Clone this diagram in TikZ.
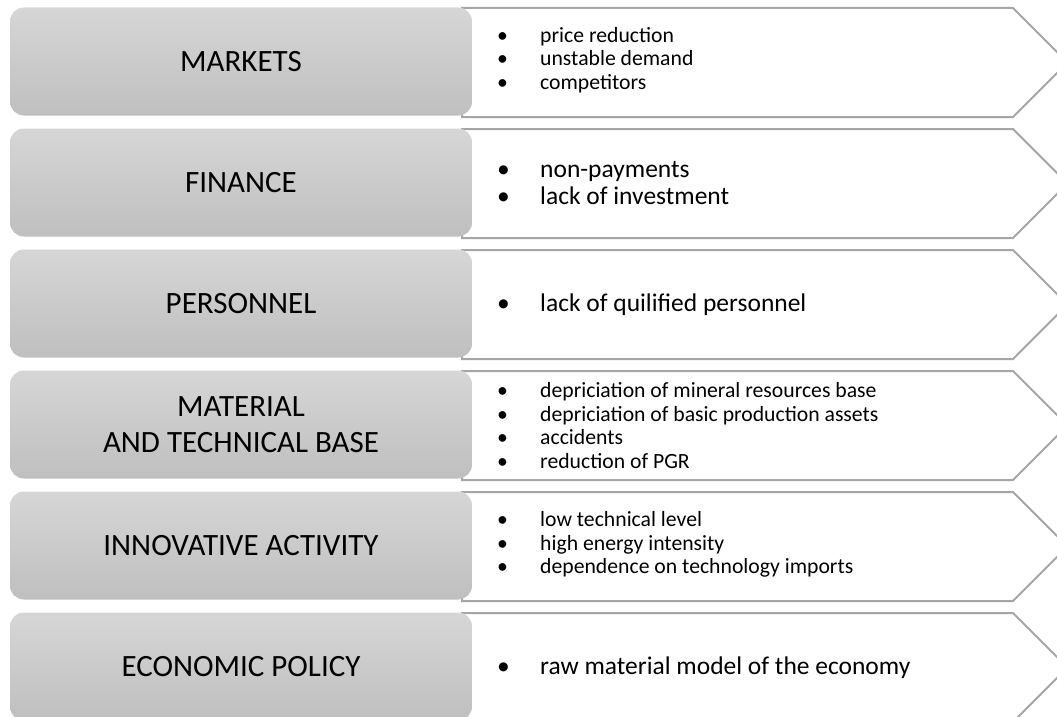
\documentclass[tikz,border=0pt]{standalone}
\usepackage{fontspec}
\setmainfont{Carlito}
\usetikzlibrary{positioning}

\definecolor{boxtop}{RGB}{214,214,214}
\definecolor{boxbot}{RGB}{191,191,191}
\definecolor{chevline}{RGB}{166,166,166}

\newcommand{\bitem}[1]{\makebox[43pt][l]{\textbullet}#1}

\begin{document}
\begin{tikzpicture}[x=1pt, y=-1pt,
    catbox/.style={rectangle, rounded corners=14pt, top color=boxtop, bottom color=boxbot, minimum width=462pt, minimum height=108pt, inner sep=0pt, align=center, font=\fontsize{31}{36}\selectfont},
    chev/.style={draw=chevline, line width=2pt, fill=white, line join=miter},
    biglist/.style={anchor=west, align=left, inner sep=0pt, font=\fontsize{25.5}{27}\selectfont},
    smalllist/.style={anchor=west, align=left, inner sep=0pt, font=\fontsize{21.7}{23.5}\selectfont}]
        \useasboundingbox (0,0) rectangle (1057,717);
        \clip (0,0) rectangle (1057,717);
        \fill[white] (0,0) rectangle (1057,717);

        % Chevrons
        \draw[chev] (462,8) -- (1013,8) -- (1067.5,62.5) -- (1013,117) -- (462,117) -- cycle;
        \draw[chev] (462,129) -- (1013,129) -- (1067.5,183.5) -- (1013,238) -- (462,238) -- cycle;
        \draw[chev] (462,250) -- (1013,250) -- (1067.5,304.5) -- (1013,359) -- (462,359) -- cycle;
        \draw[chev] (462,371) -- (1013,371) -- (1067.5,425.5) -- (1013,480) -- (462,480) -- cycle;
        \draw[chev] (462,492) -- (1013,492) -- (1067.5,546.5) -- (1013,601) -- (462,601) -- cycle;
        \draw[chev] (462,613) -- (1013,613) -- (1067.5,667.5) -- (1013,722) -- (462,722) -- cycle;

        % Categories
        \node[catbox] (markets) at (241,61.5) {MARKETS};
        \node[catbox] (finance) at (241,182.5) {FINANCE};
        \node[catbox] (personnel) at (241,303.5) {PERSONNEL};
        \node[catbox] (material) at (241,424.5) {MATERIAL\\AND TECHNICAL BASE};
        \node[catbox] (innovative) at (241,545.5) {INNOVATIVE ACTIVITY};
        \node[catbox] (policy) at (241,666.5) {ECONOMIC POLICY};

        % Factors
        \node[smalllist] (marketsf) at (497,60) {\bitem{price reduction}\\\bitem{unstable demand}\\\bitem{competitors}};
        \node[biglist] (financef) at (497,183.5) {\bitem{non-payments}\\\bitem{lack of investment}};
        \node[biglist] (personnelf) at (497,304.5) {\bitem{lack of quilified personnel}};
        \node[smalllist] (materialf) at (497,425.5) {\bitem{depriciation of mineral resources base}\\\bitem{depriciation of basic production assets}\\\bitem{accidents}\\\bitem{reduction of PGR}};
        \node[smalllist] (innovativef) at (497,544.5) {\bitem{low technical level}\\\bitem{high energy intensity}\\\bitem{dependence on technology imports}};
        \node[biglist] (policyf) at (497,667.5) {\bitem{raw material model of the economy}};
    \end{tikzpicture}
\end{document}
